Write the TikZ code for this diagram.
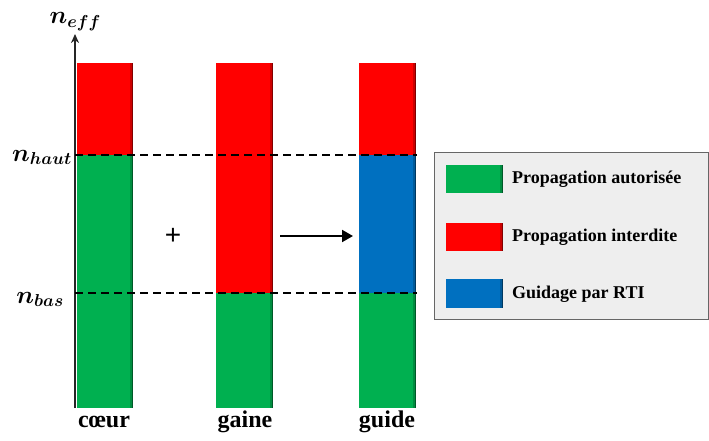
\documentclass[tikz,border=0pt]{standalone}
\usepackage{fontspec}
\usepackage{amsmath}
\usepackage{bm}
\newfontfamily\lbl{Liberation Serif}
\newfontfamily\sanslbl{Liberation Sans}
\usetikzlibrary{arrows.meta}
\definecolor{cgreen}{HTML}{00B050}
\definecolor{cred}{HTML}{FF0000}
\definecolor{cblue}{HTML}{0070C0}
\tikzset{
  mathlbl/.style={font=\fontsize{24}{28}\selectfont, inner sep=0pt},
  barlbl/.style={font=\lbl\bfseries\fontsize{24}{28}\selectfont, inner sep=0pt},
  leglbl/.style={font=\lbl\bfseries\fontsize{18}{21}\selectfont, inner sep=0pt, anchor=west},
  dashline/.style={line width=1.8pt, dash pattern=on 8pt off 5pt},
}
\newcommand{\seggg}[5]{%
  \fill[#5] (#1,#3) rectangle (#2,#4);
  \fill[#5!80!black] ({#2-3},#3) rectangle ({#2-1.5},#4);
  \fill[#5!50!black] ({#2-1.5},#3) rectangle (#2,#4);
}
\begin{document}
\begin{tikzpicture}[x=1pt,y=-1pt]
\useasboundingbox (0,0) rectangle (709,441);
% bars
\seggg{77}{133}{63}{155}{cred}
\seggg{77}{133}{155}{408}{cgreen}
\seggg{216}{273}{63}{293}{cred}
\seggg{216}{273}{293}{408}{cgreen}
\seggg{359}{416}{63}{155}{cred}
\seggg{359}{416}{155}{293}{cblue}
\seggg{359}{416}{293}{408}{cgreen}
% axis
\coordinate (ax0) at (75,408);
\coordinate (ax1) at (75,34);
\draw[line width=1.8pt, black!85, -{Stealth[length=9pt,width=8pt]}] (ax0) -- (ax1);
% dashed levels
\coordinate (h0) at (75,155);
\coordinate (h1) at (417,155);
\coordinate (b0) at (75,293);
\coordinate (b1) at (417,293);
\draw[dashline] (h0) -- (h1);
\draw[dashline] (b0) -- (b1);
% math labels
\node[mathlbl, anchor=base east] (neff) at (101,24) {$\bm{n_{eff}}$};
\node[mathlbl, anchor=base east] (nhaut) at (72,161) {$\bm{n_{haut}}$};
\node[mathlbl, anchor=base east] (nbas) at (64,303) {$\bm{n_{bas}}$};
% bar labels
\node[barlbl, anchor=base] (coeur) at (104,427) {cœur};
\node[barlbl, anchor=base] (gaine) at (245,427) {gaine};
\node[barlbl, anchor=base] (guide) at (387,427) {guide};
% plus and arrow
\node[font=\sanslbl\fontsize{28}{32}\selectfont, inner sep=0pt] (plus) at (173,236) {+};
\coordinate (a0) at (280,236);
\coordinate (a1) at (353,236);
\draw[line width=2pt, -{Triangle[length=11pt,width=12pt]}] (a0) -- (a1);
% legend
\node[draw=gray!80!black, fill=gray!13, line width=1pt, minimum width=274pt, minimum height=167pt, inner sep=0pt, anchor=north west] (legend) at (434,152) {};
\seggg{446}{503}{165}{193}{cgreen}
\seggg{446}{503}{223}{251}{cred}
\seggg{446}{503}{279}{308}{cblue}
\node[leglbl] (l1) at (512,179) {Propagation autorisée};
\node[leglbl] (l2) at (512,237) {Propagation interdite};
\node[leglbl] (l3) at (512,294) {Guidage par RTI};
\end{tikzpicture}
\end{document}
